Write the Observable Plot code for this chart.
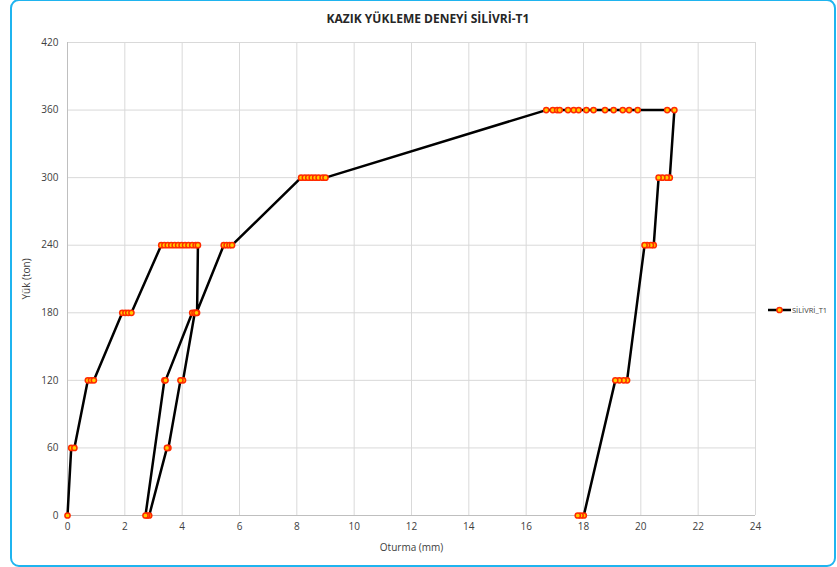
<!DOCTYPE html>
<html>
<head>
<meta charset="utf-8">
<script src="https://cdn.jsdelivr.net/npm/d3@7"></script>
<script src="https://cdn.jsdelivr.net/npm/@observablehq/plot@0.6"></script>
<style>
  html, body { margin: 0; padding: 0; background: #fff; }
  #wrap { position: relative; width: 837px; height: 567px; overflow: hidden; font-family: "Open Sans", "Liberation Sans", sans-serif; }
  #frame { position: absolute; left: 10px; top: -1px; width: 826px; height: 568px; border: 2px solid #1fb4ef; border-radius: 9px; box-sizing: border-box; }
  #title { position: absolute; top: 10px; left: 428px; transform: translateX(-50%); font-size: 12px; font-weight: bold; color: #262626; white-space: nowrap; font-family: "Open Sans", sans-serif; }
  #chart { position: absolute; top: 30px; left: 0; }
  #legend { position: absolute; left: 768px; top: 304px; display: flex; align-items: center; font-size: 7.5px; color: #404040; }
  #legend svg { display: block; }
</style>
</head>
<body>
<div id="wrap">
  <div id="frame"></div>
  <div id="title">KAZIK YÜKLEME DENEYİ SİLİVRİ-T1</div>
  <div id="chart"></div>
  <div id="legend">
    <svg width="24" height="12"><line x1="0" y1="6" x2="23" y2="6" stroke="#000" stroke-width="2.5"/><circle cx="11.5" cy="6" r="2.6" fill="#ffcc00" stroke="#ff2a00" stroke-width="1.5"/></svg>
    <span>SİLİVRİ_T1</span>
  </div>
</div>
<script>
// Settlement (mm) in test order
const settlement = [
  0,
  0.13, 0.24,
  0.71, 0.82, 0.92,
  1.91, 2.02, 2.12, 2.23,
  3.27, 3.38, 3.50, 3.62, 3.74, 3.86, 3.98, 4.10, 4.22, 4.35, 4.47, 4.55,
  4.52, 4.44,
  4.03, 3.94,
  3.52, 3.47,
  2.85, 2.78, 2.72,
  3.38, 3.42,
  4.35, 4.43, 4.50,
  5.45, 5.55, 5.65, 5.74,
  8.15, 8.28, 8.40, 8.52, 8.64, 8.76, 8.90, 9.00,
  16.70, 16.93, 17.08, 17.17, 17.46, 17.66, 17.83, 18.10, 18.35, 18.75, 19.05, 19.37, 19.59, 19.89, 20.92, 21.17,
  21.01, 20.90, 20.75, 20.62,
  20.45, 20.35, 20.22, 20.13,
  19.52, 19.40, 19.25, 19.11,
  18.01, 17.90, 17.80
];
// Load (ton) in test order
const load = [
  0,
  60, 60,
  120, 120, 120,
  180, 180, 180, 180,
  240, 240, 240, 240, 240, 240, 240, 240, 240, 240, 240, 240,
  180, 180,
  120, 120,
  60, 60,
  0, 0, 0,
  120, 120,
  180, 180, 180,
  240, 240, 240, 240,
  300, 300, 300, 300, 300, 300, 300, 300,
  360, 360, 360, 360, 360, 360, 360, 360, 360, 360, 360, 360, 360, 360, 360, 360,
  300, 300, 300, 300,
  240, 240, 240, 240,
  120, 120, 120, 120,
  0, 0, 0
];
const xTicks = [0, 2, 4, 6, 8, 10, 12, 14, 16, 18, 20, 22, 24];
const yTicks = [0, 60, 120, 180, 240, 300, 360, 420];

const data = settlement.map((s, i) => ({ s, p: load[i] }));
const grid = "#d9d9d9";

const chart = Plot.plot({
  width: 837,
  height: 537,
  marginTop: 12,
  marginBottom: 52,
  marginLeft: 67,
  marginRight: 82,
  style: { fontFamily: "'Open Sans', 'Liberation Sans', sans-serif", fontSize: "10px", color: "#595959", background: "transparent" },
  x: { domain: [0, 24] },
  y: { domain: [0, 420] },
  marks: [
    Plot.gridX(xTicks, { stroke: grid, strokeOpacity: 1 }),
    Plot.gridY(yTicks, { stroke: grid, strokeOpacity: 1 }),
    Plot.ruleX([0], { stroke: "#bfbfbf" }),
    Plot.ruleY([0], { stroke: "#bfbfbf" }),
    Plot.axisX({ ticks: xTicks, tickSize: 0, tickPadding: 7, label: "Oturma (mm)", labelAnchor: "center", labelArrow: "none", labelOffset: 35, fill: "#404040" }),
    Plot.axisY({ ticks: yTicks, tickSize: 0, tickPadding: 9, label: "Yük (ton)", labelAnchor: "center", labelArrow: "none", labelOffset: 45, fill: "#404040" }),
    Plot.line(data, { x: "s", y: "p", stroke: "#000", strokeWidth: 2.5, curve: "linear" }),
    Plot.dot(data, { x: "s", y: "p", r: 2.6, fill: "#ffcc00", stroke: "#ff2a00", strokeWidth: 1.5 })
  ]
});
document.getElementById("chart").appendChild(chart);
</script>
</body>
</html>
